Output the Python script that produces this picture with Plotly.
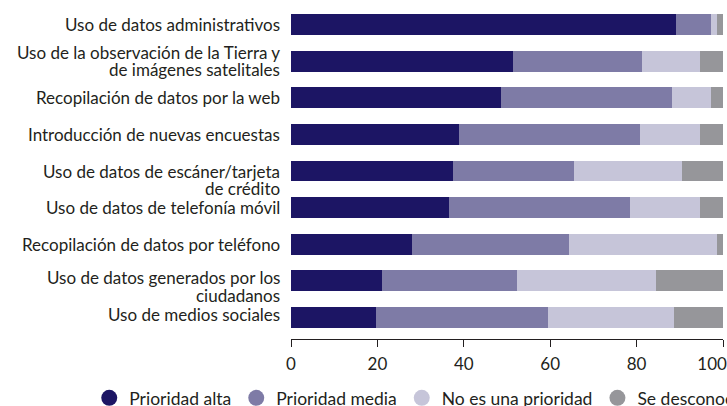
import plotly.graph_objects as go

categories = [
    "Uso de datos administrativos",
    "Uso de la observación de la Tierra y<br>de imágenes satelitales",
    "Recopilación de datos por la web",
    "Introducción de nuevas encuestas",
    "Uso de datos de escáner/tarjeta<br>de crédito",
    "Uso de datos de telefonía móvil",
    "Recopilación de datos por teléfono",
    "Uso de datos generados por los<br>ciudadanos",
    "Uso de medios sociales",
]
alta = [89.2, 51.3, 48.6, 38.8, 37.5, 36.5, 28.0, 21.0, 19.7]
media = [8.0, 30.0, 39.5, 41.9, 27.9, 41.9, 36.3, 31.3, 39.8]
no_prioridad = [1.5, 13.3, 9.2, 13.9, 25.0, 16.2, 34.4, 32.1, 29.1]
desconoce = [1.3, 5.4, 2.7, 5.4, 9.6, 5.4, 1.3, 15.6, 11.4]
series_names = ["Prioridad alta", "Prioridad media", "No es una prioridad", "Se desconoce"]
tick_vals = [0, 20, 40, 60, 80, 100]
tick_labels = ["0", "20", "40", "60", "80", "100"]

colors = ["#1c1564", "#7e7ba6", "#c6c5d9", "#96969a"]
first_line_shift = [0, 9, 0, 0, 0, 0, 0, 3, 3]
LINE_GAP = 17.5

FONT = "Lato"
TXT = "#231f20"
fig = go.Figure()
for name, vals, col in zip(series_names, [alta, media, no_prioridad, desconoce], colors):
    fig.add_trace(go.Bar(
        y=categories, x=vals, orientation="h", name=name,
        marker=dict(color=col, line=dict(width=0)), showlegend=False,
        hoverinfo="x+name",
    ))
for name, col in zip(series_names, colors):
    fig.add_trace(go.Scatter(
        x=[None], y=[None], mode="markers", name=name,
        marker=dict(color=col, size=16, symbol="circle"), showlegend=True,
    ))

for cat, ys in zip(categories, first_line_shift):
    for i, line in enumerate(cat.split("<br>")):
        fig.add_annotation(
            x=0, xref="paper", y=cat, yref="y", text=line, showarrow=False,
            xanchor="right", yanchor="middle", align="right", xshift=-9,
            yshift=ys - i * LINE_GAP,
            font=dict(family=FONT, size=17, color=TXT),
        )

# last tick label nudged left so it stays inside the picture, as in the original
shown_ticks = tick_labels[:-1] + [tick_labels[-1] + "\u00a0" * 5]

fig.update_layout(
    barmode="stack", bargap=0.427,
    width=727, height=406,
    margin=dict(l=291, r=4, t=6, b=67, autoexpand=False),
    plot_bgcolor="white", paper_bgcolor="white",
    font=dict(family=FONT, size=17, color=TXT),
    xaxis=dict(range=[0, 100], tickvals=tick_vals, ticktext=shown_ticks,
               showgrid=False, zeroline=False,
               showline=True, linecolor=TXT, linewidth=1,
               ticks="outside", ticklen=7, tickcolor=TXT, automargin=False,
               ticklabelstandoff=3, ticklabeloverflow="allow",
               tickfont=dict(family=FONT, size=17, color=TXT)),
    yaxis=dict(range=[8.587, -0.505], showticklabels=False, showgrid=False,
               zeroline=False, showline=False, automargin=False),
    legend=dict(orientation="h", x=-0.467, xanchor="left", y=-0.177, yanchor="middle",
                traceorder="normal",
                font=dict(family=FONT, size=17.5, color=TXT),
                itemwidth=30, tracegroupgap=0),
)

fig.write_html(
    "out.html",
    config={"displayModeBar": False},
    post_script="document.body.style.margin='0';document.body.style.overflow='hidden';",
)
